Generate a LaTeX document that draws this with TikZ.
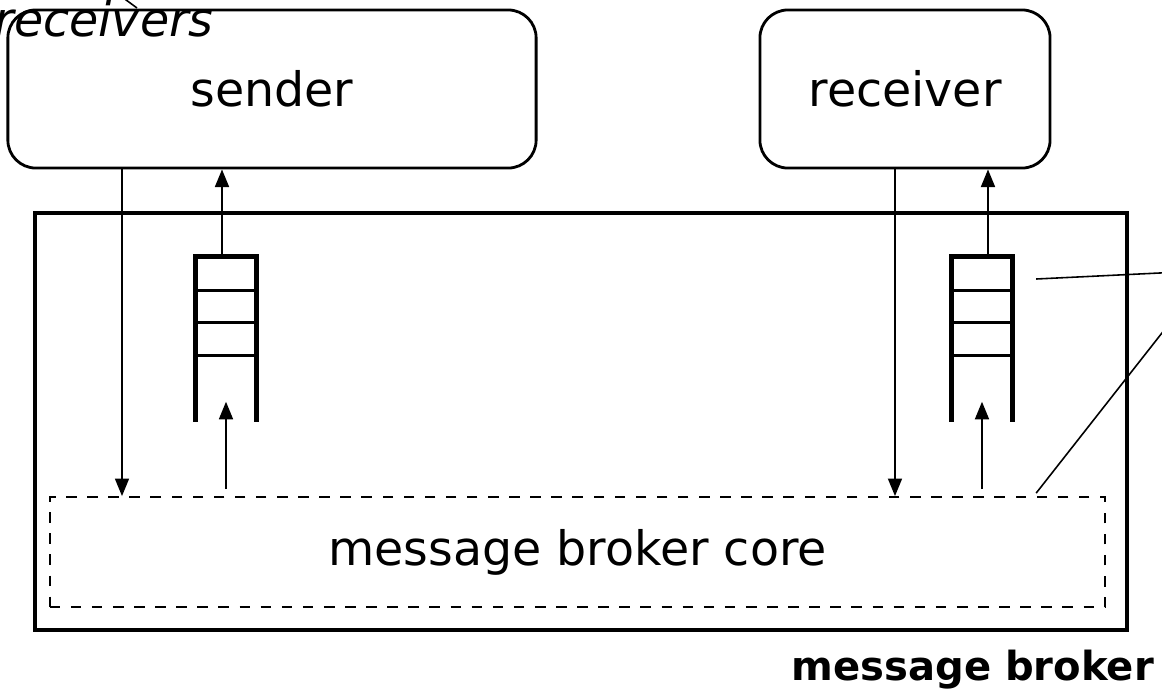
\documentclass[tikz,border=0pt]{standalone}
\usepackage{fontspec}
\setmainfont{DejaVu Sans}
\usetikzlibrary{positioning,arrows.meta,calc}

\tikzset{
  party/.style={draw,rounded corners=0.28cm,line width=0.8pt,minimum height=1.58cm,
    font=\fontsize{13.5}{16}\selectfont},
  msg/.style={-{Triangle[length=5pt,width=4pt]},line width=0.45pt},
  lead/.style={line width=0.45pt},
  queuebox/.style={minimum width=0.59cm,minimum height=1.64cm,inner sep=0pt},
  queueline/.style={line width=1.5pt}
}

\begin{document}
\begin{tikzpicture}[x=0.01cm,y=-0.01cm]
  \useasboundingbox (0,0) rectangle (1162,699);
  \node[party,minimum width=5.28cm] (sender) at (272,89) {sender};
  \node[party,minimum width=2.90cm] (receiver) at (905,89) {receiver};
  \node[draw,line width=1.2pt,minimum width=10.92cm,minimum height=4.17cm] (broker) at (581,421.5) {};
  \node[draw,dashed,line width=0.5pt,minimum width=10.55cm,minimum height=1.10cm,
    font=\fontsize{13.5}{16}\selectfont] (core) at (577.5,552) {message broker core};
  \node[font=\fontsize{11.4}{13}\selectfont\bfseries,anchor=base west,inner sep=0pt] (brokerlabel) at (791,680) {message broker};
  \node[font=\fontsize{13.5}{16}\selectfont\itshape,anchor=base west,inner sep=0pt] (rlabel) at (-6,36) {receivers};
  % queues
  \foreach \name/\x in {q1/226,q2/982}{
    \node[queuebox] (\name) at (\x,339) {};
    \draw[queueline] (\name.south west) -- (\name.north west) -- (\name.north east) -- (\name.south east);
    \foreach \y in {34,66,99}
      \draw[queueline,line width=1pt] ($(\name.north west)+(0,\y)$) -- ($(\name.north east)+(0,\y)$);
  }
  \coordinate (in1) at (122,0);
  \coordinate (in2) at (895,0);
  \coordinate (lab1) at (1180,272);
  \coordinate (lab2) at (1180,310);
  \coordinate (lab3) at (118,-6);
  % message flow
  \draw[msg] (sender.south -| in1) -- (core.north -| in1);
  \draw[msg] (receiver.south -| in2) -- (core.north -| in2);
  \draw[msg] ($(q1.north)+(-4,0)$) -- ($(q1.north |- sender.south)+(-4,0)$);
  \draw[msg] ($(q2.north)+(6,0)$) -- ($(q2.north |- receiver.south)+(6,0)$);
  \draw[msg] ($(q1.south |- core.north)+(0,-7)$) -- ($(q1.south)+(0,-20)$);
  \draw[msg] ($(q2.south |- core.north)+(0,-7)$) -- ($(q2.south)+(0,-20)$);
  % leaders
  \draw[lead] ($(q2.east)+(24,-60)$) -- (lab1);
  \draw[lead] ($(core.north east)+(-70,-3)$) -- (lab2);
  \draw[lead] (137,8) -- (lab3);
\end{tikzpicture}
\end{document}
